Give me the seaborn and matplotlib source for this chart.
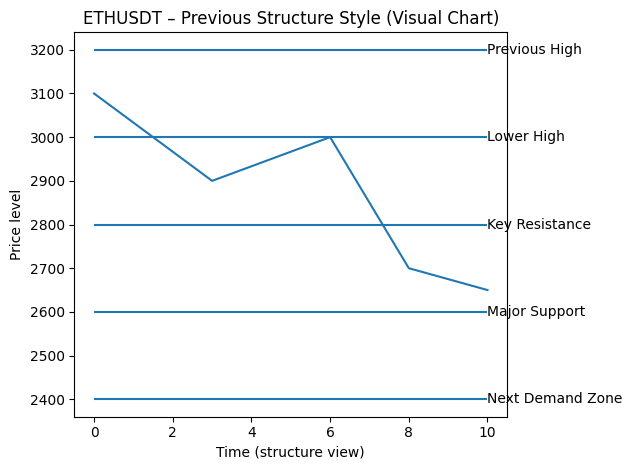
import matplotlib
matplotlib.use("Agg")
import matplotlib.pyplot as plt
import pandas as pd
import seaborn as sns

# price path through the structure
time_steps = [0, 3, 6, 8, 10]
prices = [3100, 2900, 3000, 2700, 2650]

# structure levels
level_names = ['Previous High', 'Lower High', 'Key Resistance', 'Major Support', 'Next Demand Zone']
level_values = [3200, 3000, 2800, 2600, 2400]

df = pd.DataFrame({'Time': time_steps, 'Price': prices})

fig, ax = plt.subplots(figsize=(6.4, 4.8), dpi=100)

sns.lineplot(data=df, x='Time', y='Price', ax=ax, color='C0')

for name, value in zip(level_names, level_values):
    ax.hlines(value, time_steps[0], time_steps[-1], color='C0')
    ax.text(time_steps[-1], value, name, va='center')

ax.set_title('ETHUSDT – Previous Structure Style (Visual Chart)')
ax.set_xlabel('Time (structure view)')
ax.set_ylabel('Price level')

plt.tight_layout()
plt.savefig('out.png', dpi=100, bbox_inches='tight')
